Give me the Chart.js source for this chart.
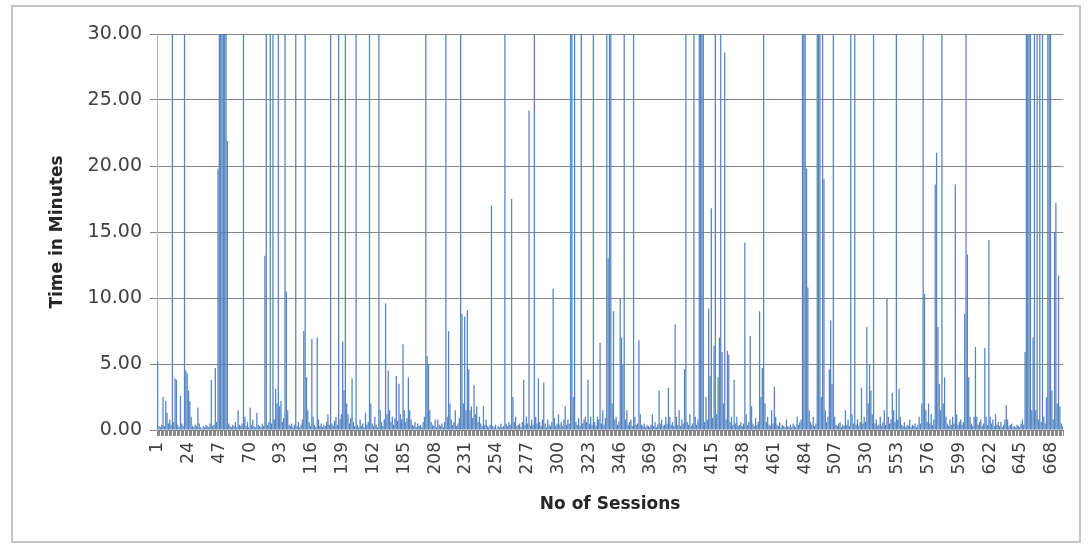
<!DOCTYPE html>
<html>
<head>
<meta charset="utf-8">
<script src="https://cdn.jsdelivr.net/npm/chart.js@4.4.1/dist/chart.umd.min.js"></script>
<style>
  html, body { margin: 0; padding: 0; background: #fff; overflow: hidden; }
  #wrap { position: relative; width: 1089px; height: 545px; }
</style>
</head>
<body>
<div id="wrap"><canvas id="sessionChart"></canvas></div>
<script>
// Time per session in minutes (values above 30 are cut off by the axis)
const minutes = [
  5.2, 0.3, 0.2, 0.4, 2.5, 0.3, 2.2, 1.3, 0.5, 0.8, 0.4, 30, 0.6, 3.9, 3.8, 0.4, 0.2, 2.6, 0.5, 0.3,
  30, 4.5, 4.3, 3.0, 2.2, 1.0, 0.3, 0.2, 0.4, 0.3, 1.7, 0.5, 0.2, 0.1, 0.3, 0.2, 0.4, 0.3, 0.2, 0.5,
  3.8, 0.3, 0.4, 4.7, 0.6, 19.8, 30, 30, 30, 30, 30, 30, 21.9, 0.5, 0.3, 0.2, 0.4, 0.3, 0.6, 0.2,
  1.5, 0.4, 0.3, 0.5, 30, 1.0, 0.3, 0.6, 0.2, 1.7, 0.4, 0.8, 0.3, 0.2, 1.3, 0.4, 0.3, 0.2, 0.5, 0.3,
  13.2, 30, 0.4, 0.6, 30, 0.5, 30, 0.8, 3.1, 2.0, 30, 1.8, 2.2, 0.6, 0.9, 30, 10.5, 1.5, 0.4, 0.3,
  0.5, 0.2, 0.4, 30, 0.3, 0.6, 0.2, 0.4, 0.8, 7.5, 30, 4.0, 1.5, 0.6, 0.3, 6.9, 1.0, 0.4, 0.2, 7.0,
  0.8, 0.3, 0.5, 0.2, 0.4, 0.3, 0.6, 1.2, 0.4, 30, 0.5, 0.3, 0.7, 1.0, 0.4, 30, 0.8, 1.2, 6.7, 3.0,
  30, 2.0, 1.2, 0.5, 0.9, 3.9, 0.6, 0.3, 30, 0.4, 0.2, 0.8, 0.3, 0.5, 0.2, 1.3, 0.4, 0.6, 30, 2.0,
  0.5, 0.3, 1.0, 0.4, 0.2, 30, 1.5, 0.6, 0.3, 0.8, 9.6, 1.2, 4.5, 1.5, 0.6, 1.0, 0.4, 0.9, 4.1, 0.7,
  3.5, 1.2, 0.8, 6.5, 1.5, 0.6, 0.9, 4.0, 1.5, 0.8, 0.4, 0.3, 0.6, 0.2, 0.5, 0.3, 0.4, 0.2, 0.6, 1.0,
  30, 5.6, 5.0, 1.5, 0.6, 0.4, 0.3, 0.8, 0.2, 0.8, 0.4, 0.3, 0.5, 0.2, 0.6, 30, 1.0, 7.5, 2.0, 0.8,
  0.4, 0.6, 1.5, 0.3, 0.5, 0.9, 30, 8.8, 2.0, 8.6, 1.5, 9.1, 4.6, 1.5, 1.8, 0.9, 3.4, 1.2, 1.8, 0.6,
  1.0, 0.5, 0.3, 1.8, 0.4, 0.8, 0.3, 0.2, 0.4, 17.0, 0.3, 0.2, 0.4, 0.1, 0.3, 0.2, 0.5, 0.2, 0.3, 30,
  0.5, 0.3, 0.6, 0.4, 17.5, 2.5, 0.6, 1.0, 0.3, 0.4, 0.5, 0.2, 0.6, 3.8, 0.4, 1.0, 0.5, 24.2, 0.3, 0.8,
  0.4, 30, 1.0, 0.5, 3.9, 0.6, 0.3, 0.8, 3.6, 0.5, 0.2, 0.8, 0.4, 0.3, 0.6, 10.7, 0.9, 0.3, 0.5, 1.2,
  0.4, 0.6, 0.3, 0.8, 1.8, 0.4, 0.8, 0.5, 30, 30, 2.5, 30, 0.6, 0.4, 0.9, 0.3, 30, 0.5, 0.8, 1.0,
  0.6, 3.8, 0.5, 1.0, 0.4, 30, 0.6, 0.3, 1.0, 0.8, 6.6, 0.5, 1.5, 0.4, 0.9, 30, 13.0, 30, 30, 2.0,
  9.0, 0.8, 1.0, 0.4, 0.6, 10.0, 7.0, 5.0, 30, 0.8, 1.5, 0.4, 0.6, 0.8, 0.3, 30, 1.0, 0.4, 0.5, 6.8,
  1.2, 0.4, 0.3, 0.5, 0.2, 0.4, 0.3, 0.2, 0.4, 1.2, 0.3, 0.6, 0.2, 0.4, 3.0, 0.5, 0.8, 0.3, 0.4, 1.0,
  0.5, 3.2, 1.0, 0.4, 0.6, 0.3, 8.0, 1.0, 0.4, 1.5, 0.3, 0.8, 0.5, 4.6, 30, 0.6, 0.4, 1.2, 0.3, 0.5,
  30, 1.0, 0.4, 0.8, 30, 30, 30, 30, 0.6, 2.5, 0.8, 9.2, 4.1, 16.8, 0.9, 6.4, 30, 1.2, 4.0, 7.0,
  30, 5.9, 2.0, 28.6, 0.8, 6.0, 5.7, 0.6, 1.0, 0.4, 3.8, 0.5, 1.0, 0.3, 0.4, 0.6, 0.3, 0.5, 14.2, 1.2,
  0.4, 0.6, 7.1, 1.8, 0.5, 0.3, 0.9, 0.4, 0.6, 9.0, 2.5, 4.7, 30, 2.0, 0.6, 1.0, 0.4, 0.3, 1.5, 0.5,
  3.3, 1.0, 0.4, 0.3, 0.6, 0.2, 0.4, 0.3, 0.2, 0.8, 0.3, 0.2, 0.4, 0.2, 0.5, 0.3, 0.2, 1.0, 0.4, 0.6,
  0.8, 30, 30, 30, 19.8, 10.8, 1.5, 0.6, 0.4, 1.0, 0.3, 0.5, 30, 30, 30, 2.5, 30, 19.0, 1.5, 0.6,
  1.0, 4.6, 8.3, 3.5, 30, 1.0, 0.4, 0.3, 0.5, 0.6, 0.2, 0.4, 0.3, 1.5, 0.4, 0.8, 0.3, 30, 1.2, 0.5,
  30, 0.4, 0.8, 0.3, 0.6, 3.2, 0.5, 1.0, 0.6, 7.8, 2.0, 5.0, 3.0, 1.2, 30, 0.5, 0.8, 0.3, 0.4, 1.0,
  0.3, 0.6, 1.5, 0.4, 10.0, 1.0, 0.5, 0.8, 2.8, 1.5, 0.6, 30, 0.8, 3.1, 1.0, 0.4, 0.3, 0.6, 0.2, 0.4,
  0.3, 0.8, 0.2, 0.4, 0.3, 0.5, 0.2, 0.4, 1.0, 0.5, 2.0, 30, 10.3, 1.5, 0.6, 2.0, 0.5, 1.2, 0.4, 0.8,
  18.6, 21.0, 7.8, 3.5, 1.5, 30, 2.0, 4.0, 1.0, 0.5, 0.3, 0.8, 0.4, 1.0, 0.5, 18.6, 1.2, 0.4, 0.6, 0.8,
  0.4, 0.6, 8.8, 30, 13.3, 4.0, 1.0, 0.5, 0.3, 1.0, 6.3, 1.0, 0.4, 0.6, 0.8, 0.3, 0.5, 6.2, 1.0, 0.4,
  14.4, 1.0, 0.5, 0.8, 0.3, 1.2, 0.4, 0.6, 0.3, 0.6, 0.2, 0.4, 0.8, 1.9, 0.8, 0.3, 0.4, 0.5, 0.2, 0.3,
  0.2, 0.4, 0.3, 0.2, 0.5, 0.8, 0.4, 5.9, 30, 30, 30, 30, 1.5, 7.0, 30, 1.5, 30, 0.8, 30, 0.6,
  30, 1.0, 0.5, 2.5, 30, 30, 30, 3.0, 0.8, 15.0, 17.2, 2.0, 11.7, 1.8, 0.5, 0.3
];

// Session numbers 1..N (one category per value)
const sessions = minutes.map((v, i) => String(i + 1));

// Session numbers that get a label on the x axis
const shownTicks = ['1', '24', '47', '70', '93', '116', '139', '162', '185', '208', '231', '254', '277', '300',
  '323', '346', '369', '392', '415', '438', '461', '484', '507', '530', '553', '576', '599', '622', '645', '668'];

const yMax = 30;
const yStep = 5;

// White background plus the light grey frame round the chart
const framePlugin = {
  id: 'frame',
  beforeDraw(chart) {
    const ctx = chart.ctx;
    ctx.save();
    ctx.fillStyle = '#ffffff';
    ctx.fillRect(0, 0, chart.width, chart.height);
    ctx.strokeStyle = '#c4c4c4';
    ctx.lineWidth = 2;
    ctx.strokeRect(12, 6, 1068, 536);
    ctx.restore();
  }
};

const ctx = document.getElementById('sessionChart').getContext('2d');
new Chart(ctx, {
  type: 'bar',
  data: {
    labels: sessions,
    datasets: [{
      label: 'Time in Minutes',
      data: minutes,
      backgroundColor: '#5585c2',
      borderWidth: 0,
      barPercentage: 1.0,
      categoryPercentage: 0.95
    }]
  },
  options: {
    responsive: true,
    maintainAspectRatio: false,
    animation: false,
    layout: {
      padding: { left: 43, right: 23, top: 34, bottom: 26 }
    },
    plugins: {
      legend: { display: false },
      tooltip: { enabled: false }
    },
    scales: {
      x: {
        grid: {
          display: true,
          drawOnChartArea: false,
          drawTicks: true,
          tickLength: 6,
          color: '#8a8a8a'
        },
        border: { display: true, color: '#808080' },
        ticks: {
          autoSkip: false,
          maxRotation: 90,
          minRotation: 90,
          padding: 6,
          color: '#404040',
          font: { family: 'DejaVu Sans', size: 17 },
          callback: function(value, index) {
            const s = sessions[index];
            return shownTicks.includes(s) ? s : '';
          }
        },
        title: {
          display: true,
          text: 'No of Sessions',
          color: '#262626',
          font: { family: 'DejaVu Sans', size: 17, weight: 'bold' }
        },
        afterFit: function(scale) {
          scale.height = 89;
        }
      },
      y: {
        min: 0,
        max: yMax,
        grid: {
          color: '#858585',
          tickLength: 7
        },
        border: { display: true, color: '#b5b5b5' },
        ticks: {
          stepSize: yStep,
          padding: 8,
          color: '#404040',
          font: { family: 'DejaVu Sans', size: 19 },
          callback: function(value) {
            return value.toFixed(2);
          }
        },
        title: {
          display: true,
          text: 'Time in Minutes',
          color: '#262626',
          font: { family: 'DejaVu Sans', size: 17, weight: 'bold' }
        },
        afterFit: function(scale) {
          scale.width = 114;
        }
      }
    }
  },
  plugins: [framePlugin]
});
</script>
</body>
</html>
